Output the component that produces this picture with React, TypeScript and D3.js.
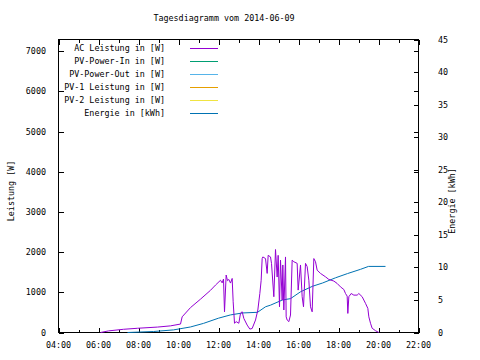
import * as d3 from "d3";

const title = "Tagesdiagramm vom 2014-06-09";

// AC Leistung [W] over the day
const acTimes = [
  "06:06", "06:30", "07:15", "07:57", "08:57", "09:36", "10:06", "10:11", "10:36", "11:06",
  "11:36", "11:51", "12:06", "12:11", "12:15", "12:18", "12:23", "12:27", "12:31", "12:36",
  "12:41", "12:44", "12:48", "12:53", "13:01", "13:06", "13:11", "13:16", "13:26", "13:34",
  "13:41", "13:51", "13:58", "14:04", "14:08", "14:11", "14:13", "14:21", "14:26", "14:29",
  "14:36", "14:39", "14:46", "14:51", "14:56", "14:59", "15:03", "15:06", "15:11", "15:13",
  "15:16", "15:21", "15:23", "15:26", "15:31", "15:36", "15:41", "15:46", "15:56", "15:59",
  "16:06", "16:11", "16:15", "16:21", "16:26", "16:31", "16:36", "16:41", "16:46", "16:51",
  "16:56", "17:06", "17:21", "17:31", "17:46", "17:56", "18:06", "18:16", "18:21", "18:26",
  "18:28", "18:31", "18:38", "18:46", "18:56", "19:01", "19:11", "19:21", "19:28", "19:31",
  "19:36", "19:41", "19:51", "20:01",
];
const acValues = [
  0, 40, 80, 105, 135, 165, 210, 390, 620, 830,
  1050, 1180, 1300, 1235, 1330, 515, 1430, 1290, 1320, 1230,
  1345, 765, 230, 270, 230, 480, 515, 350, 185, 85,
  100, 310, 560, 970, 1300, 1840, 1880, 1840, 1470, 1920,
  1880, 1720, 890, 2065, 1380, 1920, 640, 1800, 805, 1680,
  560, 1880, 390, 310, 270, 435, 1800, 1760, 1720, 1055,
  1680, 890, 640, 1720, 1640, 1300, 640, 515, 1840, 1760,
  1550, 1470, 1385, 1320, 1280, 1220, 1135, 1070, 970, 905,
  475, 890, 970, 930, 930, 970, 890, 725, 600, 390,
  230, 105, 45, 0,
];

// Energie [kWh], cumulative
const energyTimes = [
  "07:27", "08:45", "09:45", "10:36", "11:15", "12:00", "12:36", "13:12", "13:57", "14:21",
  "14:36", "15:12", "15:36", "16:06", "16:42", "17:12", "17:51", "18:27", "19:06", "19:30", "20:21",
];
const energyValues = [
  0, 0.15, 0.4, 0.85, 1.4, 2.2, 2.7, 3.0, 3.1, 3.95,
  4.2, 5.0, 5.2, 6.25, 7.1, 7.6, 8.4, 9.05, 9.7, 10.15, 10.15,
];

const legendLabels = [
  "AC Leistung in [W]",
  "PV-Power-In in [W]",
  "PV-Power-Out in [W]",
  "PV-1 Leistung in [W]",
  "PV-2 Leistung in [W]",
  "Energie in [kWh]",
];
const legendColors = ["#9400d3", "#009e73", "#56b4e9", "#e69f00", "#f0e442", "#0072b2"];

const leftTicks = [0, 1000, 2000, 3000, 4000, 5000, 6000, 7000];
const rightTicks = [0, 5, 10, 15, 20, 25, 30, 35, 40, 45];
const hourTicks = d3.range(4, 23);

const toMin = (t: string) => {
  const [h, m] = t.split(":").map(Number);
  return h * 60 + m;
};
const fmtHour = (h: number) => `${String(h).padStart(2, "0")}:00`;

const FONT = "'DejaVu Sans Mono', monospace";

export default function App() {
  const width = 480;
  const height = 360;
  const left = 58.5;
  const right = 418.5;
  const top = 39.5;
  const bottom = 332.5;

  const x = d3.scaleLinear().domain([240, 1320]).range([left, right]);
  const y = d3.scaleLinear().domain([0, 7290]).range([bottom, top]);
  const y2 = d3.scaleLinear().domain([0, 45]).range([bottom, top]);

  const acLine = d3
    .line<number>()
    .x((_, i) => x(toMin(acTimes[i])))
    .y(d => y(d));
  const energyLine = d3
    .line<number>()
    .x((_, i) => x(toMin(energyTimes[i])))
    .y(d => y2(d));

  return (
    <svg
      width={width}
      height={height}
      style={{ position: "absolute", left: 0, top: 0, background: "#fff" }}
      fontFamily={FONT}
      fontSize={8.4}
    >
      <rect x={0} y={0} width={width} height={height} fill="#fff" />
      <text x={224} y={21} textAnchor="middle">{title}</text>

      {/* frame */}
      <rect
        x={left}
        y={top}
        width={right - left}
        height={bottom - top}
        fill="none"
        stroke="#000"
        shapeRendering="crispEdges"
      />

      {/* ticks */}
      <g stroke="#000" shapeRendering="crispEdges">
        {hourTicks.map(h => {
          const len = h % 2 === 0 ? 5 : 3;
          const px = Math.round(x(h * 60)) + 0.5;
          return (
            <g key={h}>
              <line x1={px} x2={px} y1={bottom} y2={bottom - len} />
              <line x1={px} x2={px} y1={top} y2={top + len} />
            </g>
          );
        })}
        {leftTicks.map(v => (
          <g key={v}>
            <line x1={left} x2={left + 5} y1={Math.round(y(v)) + 0.5} y2={Math.round(y(v)) + 0.5} />
            <line x1={right} x2={right - 5} y1={Math.round(y(v)) + 0.5} y2={Math.round(y(v)) + 0.5} />
          </g>
        ))}
        {rightTicks.map(v => (
          <line key={v} x1={right} x2={right - 5} y1={Math.round(y2(v)) + 0.5} y2={Math.round(y2(v)) + 0.5} />
        ))}
      </g>

      <g textAnchor="middle">
        {hourTicks
          .filter(h => h % 2 === 0)
          .map(h => (
            <text key={h} x={x(h * 60)} y={348}>{fmtHour(h)}</text>
          ))}
      </g>
      <g textAnchor="end">
        {leftTicks.map(v => (
          <text key={v} x={46} y={y(v) + 3}>{v}</text>
        ))}
      </g>
      <g textAnchor="start">
        {rightTicks.map(v => (
          <text key={v} x={438} y={y2(v) + 3}>{v}</text>
        ))}
      </g>

      <text transform="translate(14,191) rotate(-90)" textAnchor="middle">Leistung [W]</text>
      <text transform="translate(455,201) rotate(-90)" textAnchor="middle">Energie [kWh]</text>

      {/* series */}
      <path d={energyLine(energyValues) ?? undefined} fill="none" stroke={legendColors[5]} strokeWidth={1} />
      <path d={acLine(acValues) ?? undefined} fill="none" stroke={legendColors[0]} strokeWidth={1} />

      {/* legend */}
      {legendLabels.map((label, i) => {
        const ly = 48 + i * 12.9;
        return (
          <g key={label}>
            <text x={165} y={ly + 3} textAnchor="end">{label}</text>
            <line
              x1={190}
              x2={218}
              y1={Math.round(ly) + 0.5}
              y2={Math.round(ly) + 0.5}
              stroke={legendColors[i]}
              shapeRendering="crispEdges"
            />
          </g>
        );
      })}
    </svg>
  );
}
